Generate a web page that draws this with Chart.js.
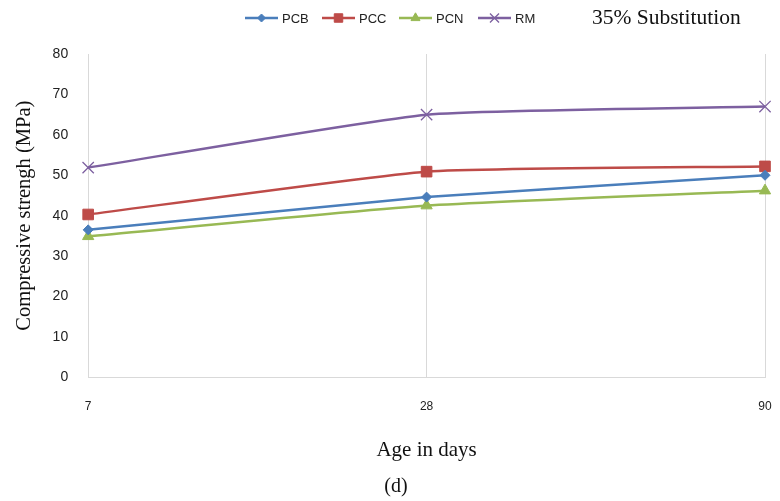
<!DOCTYPE html>
<html>
<head>
<meta charset="utf-8">
<script src="https://cdn.jsdelivr.net/npm/chart.js@4.4.0/dist/chart.umd.min.js"></script>
<style>
  html, body { margin: 0; padding: 0; background: #fff; }
  #wrap { width: 780px; height: 501px; }
</style>
</head>
<body>
<div id="wrap"><canvas id="chart" width="780" height="501"></canvas></div>
<script>
const ages = ['7', '28', '90'];
const pcb = [36.5, 44.6, 50.0];
const pcc = [40.3, 50.9, 52.2];
const pcn = [34.9, 42.5, 46.2];
const rm = [51.9, 65.0, 67.0];
const yTicks = [0, 10, 20, 30, 40, 50, 60, 70, 80];

const serif = '"Liberation Serif", "Times New Roman", serif';
const sans = '"Liberation Sans", Arial, sans-serif';

function series(label, data, color, style, radius) {
  return {
    label, data,
    borderColor: color,
    backgroundColor: color,
    borderWidth: 2.5,
    pointStyle: style,
    pointRadius: radius,
    pointBorderWidth: style === 'crossRot' ? 1.3 : 1,
    tension: 0.15,
    fill: false
  };
}

// legend row with line + marker, plus the heading text
const legendRow = {
  id: 'legendRow',
  afterDraw(chart) {
    const ctx = chart.ctx;
    const y = 18;
    const xs = [245, 322, 399, 478];
    ctx.save();
    chart.data.datasets.forEach((ds, i) => {
      const x0 = xs[i];
      ctx.strokeStyle = ds.borderColor;
      ctx.lineWidth = 2.5;
      ctx.beginPath();
      ctx.moveTo(x0, y);
      ctx.lineTo(x0 + 33, y);
      ctx.stroke();
      ctx.fillStyle = ds.backgroundColor;
      ctx.lineWidth = ds.pointBorderWidth;
      Chart.helpers.drawPoint(ctx, {
        pointStyle: ds.pointStyle,
        radius: ds.pointRadius * 0.8,
        borderWidth: ds.pointBorderWidth
      }, x0 + 16.5, y);
      ctx.fillStyle = '#222';
      ctx.font = '13px ' + sans;
      ctx.textBaseline = 'middle';
      ctx.textAlign = 'left';
      ctx.fillText(ds.label, x0 + 37, y + 1);
    });
    ctx.font = '21.5px ' + serif;
    ctx.fillStyle = '#111';
    ctx.fillText('35% Substitution', 592, y);
    ctx.restore();
  }
};

new Chart(document.getElementById('chart'), {
  type: 'line',
  data: {
    labels: ages,
    datasets: [
      series('PCB', pcb, '#4a7ebb', 'rectRot', 5),
      series('PCC', pcc, '#be4b48', 'rect', 7.5),
      series('PCN', pcn, '#98b954', 'triangle', 6.5),
      series('RM', rm, '#7d60a0', 'crossRot', 8)
    ]
  },
  options: {
    responsive: false,
    animation: false,
    layout: { padding: { top: 54, right: 0, left: 12, bottom: 0 } },
    plugins: {
      legend: { display: false },
      tooltip: { enabled: false },
      title: {
        display: true,
        position: 'bottom',
        text: '(d)',
        color: '#111',
        font: { family: serif, size: 20, weight: 'normal' },
        padding: { top: 12, bottom: 2 }
      }
    },
    scales: {
      x: {
        offset: false,
        afterFit(axis) { axis.paddingRight = 15; axis.paddingLeft = 0; },
        grid: { color: '#d9d9d9', lineWidth: 1, drawTicks: false },
        border: { color: '#d9d9d9' },
        ticks: { color: '#222', font: { family: sans, size: 12 }, padding: 22, maxRotation: 0 },
        title: {
          display: true, text: 'Age in days', color: '#111',
          font: { family: serif, size: 21 }, padding: { top: 2, bottom: 0 }
        }
      },
      y: {
        min: 0, max: 80,
        afterBuildTicks(axis) { axis.ticks = yTicks.map(v => ({ value: v })); },
        grid: { display: false },
        border: { display: false },
        ticks: { color: '#222', font: { family: sans, size: 14 }, padding: 12 },
        title: {
          display: true, text: 'Compressive strengh (MPa)', color: '#111',
          font: { family: serif, size: 20.5 }, padding: { top: 0, bottom: 4 }
        }
      }
    }
  },
  plugins: [legendRow]
});
</script>
</body>
</html>
